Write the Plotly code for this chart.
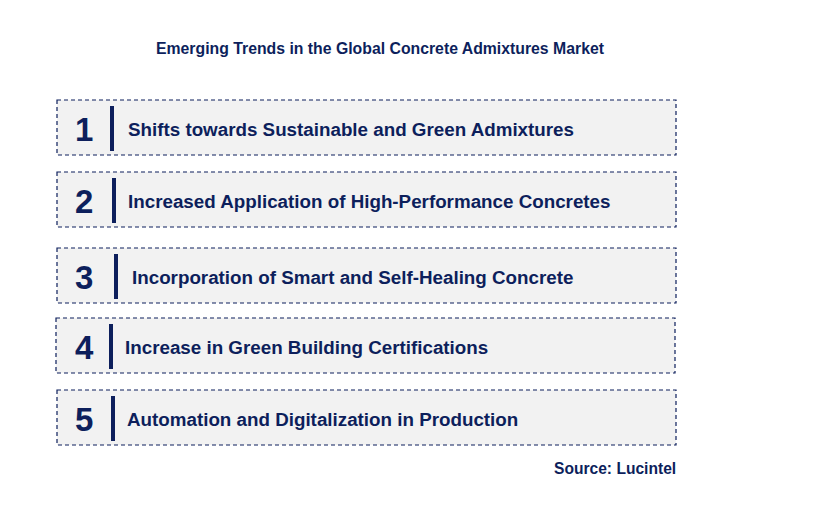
import plotly.graph_objects as go

numbers = ["1", "2", "3", "4", "5"]
labels = ["Shifts towards Sustainable and Green Admixtures",
          "Increased Application of High-Performance Concretes",
          "Incorporation of Smart and Self-Healing Concrete",
          "Increase in Green Building Certifications",
          "Automation and Digitalization in Production"]
box_x0 = [57, 57, 57, 56, 57]
box_x1 = [676, 676, 676, 675, 676]
box_y0 = [100, 172, 248, 318, 390]
box_y1 = [155, 227, 303, 373, 445]
bar_x = [112, 114, 116, 111, 113]
text_x = [126, 126, 130, 123, 125]

navy = "#0d1f5c"
fig = go.Figure()
shapes, ann = [], []
for i in range(len(labels)):
    shapes.append(dict(type="rect", x0=box_x0[i], x1=box_x1[i], y0=box_y0[i], y1=box_y1[i],
                       fillcolor="#f2f2f2", line=dict(color=navy, width=1.2, dash="4px,3px"), layer="below"))
    shapes.append(dict(type="line", x0=bar_x[i], x1=bar_x[i], y0=box_y0[i]+6, y1=box_y1[i]-4,
                       line=dict(color=navy, width=4)))
    cy = (box_y0[i]+box_y1[i])/2
    ann.append(dict(x=84, y=cy+2, text="<b>%s</b>" % numbers[i], showarrow=False,
                    font=dict(size=33, color=navy, family="Liberation Sans"), xanchor="center", yanchor="middle"))
    ann.append(dict(x=text_x[i], y=cy+2, text="<b>%s</b>" % labels[i], showarrow=False,
                    font=dict(size=18.8, color=navy, family="Liberation Sans"), xanchor="left", yanchor="middle"))
ann.append(dict(x=380, y=48, text="<b>Emerging Trends in the Global Concrete Admixtures Market</b>", showarrow=False,
                font=dict(size=15.8, color=navy, family="Liberation Sans"), xanchor="center", yanchor="middle"))
ann.append(dict(x=678, y=468, text="<b>Source: Lucintel</b>", showarrow=False,
                font=dict(size=15.6, color=navy, family="Liberation Sans"), xanchor="right", yanchor="middle"))

fig.update_layout(width=831, height=521, margin=dict(l=0, r=0, t=0, b=0),
                  paper_bgcolor="white", plot_bgcolor="white", shapes=shapes, annotations=ann,
                  xaxis=dict(range=[8, 839], visible=False, fixedrange=True),
                  yaxis=dict(range=[529, 8], visible=False, fixedrange=True), showlegend=False)
fig.write_html("out.html", config={"displayModeBar": False})
